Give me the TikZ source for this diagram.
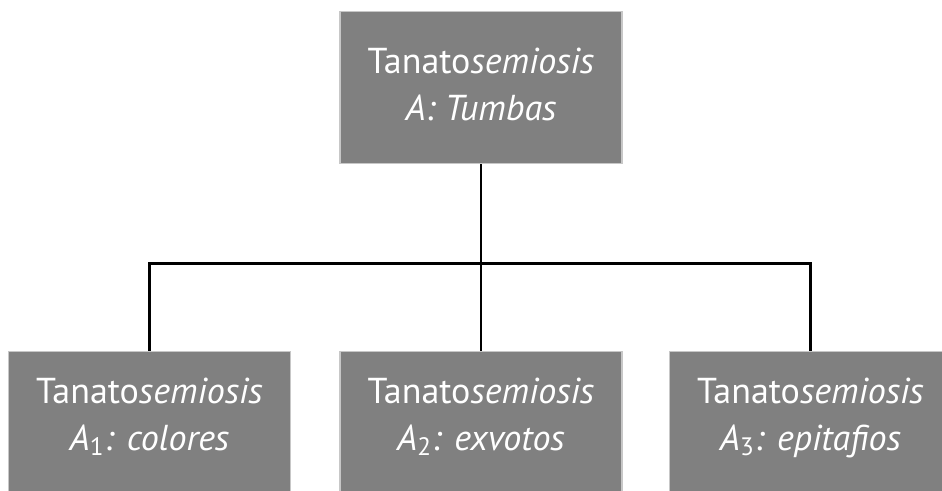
\documentclass[tikz,border=0pt]{standalone}
\usepackage{fontspec}
\setmainfont{PT Sans}
\usetikzlibrary{positioning}

\begin{document}
\begin{tikzpicture}[
		every edge/.style = {draw=black,line width=1.7pt},
		conn/.style = {draw=black,line width=1.7pt},
		sbox/.style = {rectangle, draw=black!22, line width=0.6pt,
			fill=black!50, text=white, align=center,
			font=\fontsize{20.5}{26.6}\selectfont,
			minimum width=5.64cm, inner xsep=0pt, inner ysep=0pt},
		topbox/.style = {sbox, anchor=north, text height=2.18cm, text depth=0.86cm},
		lowbox/.style = {sbox, anchor=north, text height=1.98cm, text depth=1.4cm}
                    ]
		\path[use as bounding box, clip] (0,0) rectangle (18.84,9.82);

		\node(top) [topbox] at (9.62, 9.6) {Tanato\textit{semiosis}\\ \textit{A: Tumbas}};
		\node(col) [lowbox] at (2.99, 2.8) {Tanato\textit{semiosis}\\ \textit{A}\textsubscript{1}\textit{: colores}};
		\node(exv) [lowbox] at (9.62, 2.8) {Tanato\textit{semiosis}\\ \textit{A}\textsubscript{2}\textit{: exvotos}};
		\node(epi) [lowbox] at (16.21, 2.8) {Tanato\textit{semiosis}\\ \textit{A}\textsubscript{3}\textit{: epitafios}};

		\coordinate(fork) at (9.62, 4.54);

		\path   (top) edge (exv);
		\draw[conn] (col.north) |- (fork) -| (epi.north);
	\end{tikzpicture}
\end{document}
